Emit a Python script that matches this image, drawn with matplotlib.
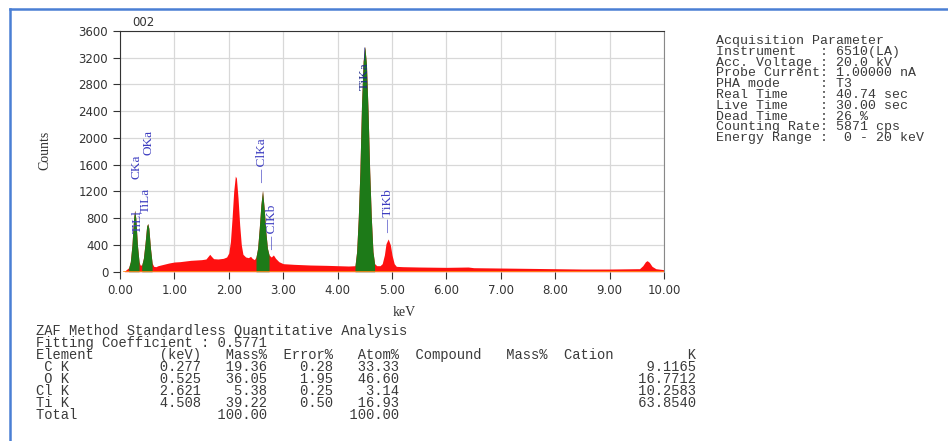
import numpy as np
import matplotlib
matplotlib.use("Agg")
import matplotlib.pyplot as plt
from matplotlib.lines import Line2D
from matplotlib.font_manager import FontProperties

# EDS spectrum (keV, counts)
energy = [0.00, 0.08, 0.10, 0.13, 0.16, 0.19, 0.22, 0.25, 0.27, 0.29, 0.32, 0.35, 0.37,
          0.40, 0.43, 0.46, 0.49, 0.51, 0.53, 0.56, 0.59, 0.62, 0.66, 0.70,
          0.80, 0.90, 1.00, 1.10, 1.20, 1.30, 1.40, 1.50, 1.58, 1.62, 1.65, 1.68, 1.72, 1.80,
          1.90, 1.96, 2.00, 2.03, 2.06, 2.09, 2.12, 2.14, 2.17, 2.20, 2.23, 2.26, 2.31, 2.36,
          2.40, 2.43, 2.47, 2.50, 2.53, 2.56, 2.59, 2.62, 2.65, 2.68, 2.71, 2.74, 2.78, 2.82,
          2.86, 2.92, 3.00, 3.20, 3.50, 3.80, 4.00, 4.20, 4.28, 4.32, 4.35, 4.38, 4.41, 4.44,
          4.47, 4.50, 4.53, 4.56, 4.59, 4.62, 4.65, 4.68, 4.72, 4.78, 4.82, 4.86, 4.89, 4.93,
          4.97, 5.00, 5.04, 5.08, 5.20, 5.50, 6.00, 6.40, 6.50, 7.00, 7.50, 8.00, 8.50, 9.00,
          9.50, 9.55, 9.61, 9.66, 9.69, 9.73, 9.78, 9.85, 9.95, 10.00]
counts = [0, 0, 20, 40, 60, 150, 400, 800, 920, 800, 400, 150, 100,
          100, 200, 420, 680, 720, 650, 350, 130, 80, 75, 90,
          110, 130, 145, 150, 160, 170, 175, 180, 190, 230, 260, 230, 195, 190,
          200, 220, 280, 450, 800, 1200, 1430, 1400, 1100, 700, 400, 260, 220, 210,
          230, 200, 180, 220, 350, 650, 1000, 1215, 950, 600, 350, 250, 220, 250,
          200, 150, 120, 110, 100, 95, 90, 85, 88, 90, 300, 800, 1500, 2500,
          3150, 3370, 3100, 2400, 1500, 800, 300, 120, 90, 90, 120, 250, 420, 490,
          400, 250, 120, 80, 75, 70, 65, 70, 60, 55, 50, 45, 40, 40,
          45, 45, 90, 150, 165, 140, 80, 45, 35, 30]

# identified peak windows (green)
peak_windows = [(0.16, 0.35), (0.40, 0.59), (2.50, 2.74), (4.32, 4.68)]

# peak labels: text, keV, counts at the foot of the label
label_text = ["CKa", "TiLl", "TiLa", "OKa", "\u2014 ClKa", "\u2014 ClKb", "TiKa \u2014", "\u2014 TiKb"]
label_x = [0.30, 0.32, 0.47, 0.52, 2.62, 2.80, 4.50, 4.93]
label_y = [1380, 580, 880, 1750, 1330, 325, 2720, 580]

acq_lines = [
    "Acquisition Parameter",
    "Instrument   : 6510(LA)",
    "Acc. Voltage : 20.0 kV",
    "Probe Current: 1.00000 nA",
    "PHA mode     : T3",
    "Real Time    : 40.74 sec",
    "Live Time    : 30.00 sec",
    "Dead Time    : 26 %",
    "Counting Rate: 5871 cps",
    "Energy Range :  0 - 20 keV",
]

elements = [" C K", " O K", "Cl K", "Ti K"]
el_kev = [0.277, 0.525, 2.621, 4.508]
el_mass = [19.36, 36.05, 5.38, 39.22]
el_error = [0.28, 1.95, 0.25, 0.50]
el_atom = [33.33, 46.60, 3.14, 16.93]
el_k = [9.1165, 16.7712, 10.2583, 63.8540]
total_mass = 100.00
total_atom = 100.00
fitting_coef = 0.5771

W, H = 948, 441
fig = plt.figure(figsize=(W / 100, H / 100), dpi=100)
ax = fig.add_axes([120 / W, 1 - 271.7 / H, 544 / W, 240.7 / H])
renderer = fig.canvas.get_renderer()

e = np.array(energy)
c = np.array(counts)
ax.fill_between(e, 0, c, color="#ff1010", lw=0, zorder=2)
for lo, hi in peak_windows:
    m = (e >= lo - 1e-9) & (e <= hi + 1e-9)
    ax.fill_between(e[m], 0, c[m], color="#1d7a18", lw=0, zorder=3)
ax.plot([e[1], e[-1]], [0, 0], color="#ff8c1a", lw=1.2, zorder=4)

for t, x, y in zip(label_text, label_x, label_y):
    col = "#1f2a8a" if t.startswith("TiKa") else "#3c3cc0"
    ax.text(x, y, t, rotation=90, ha="center", va="bottom", fontsize=9.5,
            family="Liberation Serif", color=col, zorder=5)

ax.set_xlim(0, 10)
ax.set_ylim(0, 3600)
ax.set_xticks(np.arange(0, 11, 1))
ax.set_xticklabels([f"{v:.2f}" for v in np.arange(0, 11, 1)])
ax.set_yticks(np.arange(0, 3601, 400))
ax.grid(True, color="#d8d8d8", lw=0.9, zorder=0)
ax.set_axisbelow(True)
ax.tick_params(labelsize=8.5, labelcolor="#333333", length=5, width=0.8, color="#333333")
for s in ["left", "top"]:
    ax.spines[s].set_color("#333333")
ax.spines["right"].set_color("#888888")
ax.spines["bottom"].set_visible(False)

fig.text(132 / W, 1 - 22 / H, "002", fontsize=8.5, color="#333333", ha="left", va="center")
fig.text(45 / W, 1 - 150 / H, "Counts", rotation=90, fontsize=10, family="Liberation Serif",
         ha="center", va="center", color="#333333")
fig.text(404 / W, 1 - 313 / H, "keV", fontsize=10, family="Liberation Serif",
         ha="center", va="center", color="#333333")


def text_block(x_px, base_px, lines, size, step_px):
    # one multi-line monospace block, first baseline at base_px, fixed line step
    fp = FontProperties(family="Liberation Mono", size=size)
    _, h, d = renderer.get_text_width_height_descent("lp", fp, ismath=False)
    fig.text(x_px / W, 1 - (base_px - (h - d)) / H, "\n".join(lines), fontproperties=fp,
             linespacing=step_px / h, ha="left", va="top", color="#3a3a3a")


text_block(716, 44, acq_lines, 9.5, 10.4)

rows = ["ZAF Method Standardless Quantitative Analysis",
        f"Fitting Coefficient : {fitting_coef:.4f}",
        "Element" + " " * 8 + "(keV)" + f"{'Mass%':>8}{'Error%':>8}{'Atom%':>8}"
        + "  Compound   Mass%  Cation" + f"{'K':>10}"]
for n, kv, ms, er, at, k in zip(elements, el_kev, el_mass, el_error, el_atom, el_k):
    rows.append(f"{n:<15}{kv:5.3f}{ms:8.2f}{er:8.2f}{at:8.2f}" + " " * 25 + f"{k:11.4f}")
rows.append(f"{'Total':<20}{total_mass:8.2f}{'':8}{total_atom:8.2f}")
text_block(36, 335.5, rows, 9.9, 11.3)

# blue frame around the screenshot
fig.add_artist(Line2D([10 / W, 1], [1 - 9 / H, 1 - 9 / H], color="#4a7fd4", lw=1.8))
fig.add_artist(Line2D([10 / W, 10 / W], [0, 1 - 9 / H], color="#4a7fd4", lw=1.8))

fig.savefig("out.png", dpi=100)
